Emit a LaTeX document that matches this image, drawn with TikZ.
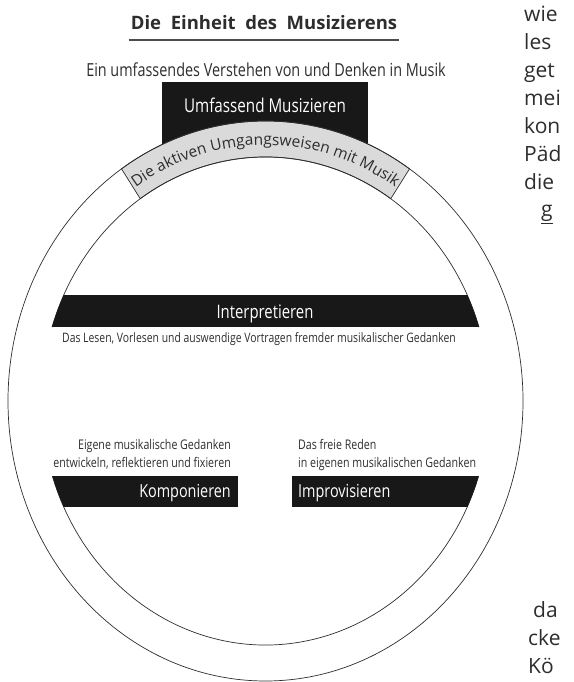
\documentclass[tikz,border=0pt]{standalone}
\usepackage{fontspec}
\setmainfont{Open Sans}
\newfontfamily\cond[FakeStretch=0.8]{Open Sans}
\usepackage{tikz}
\usepackage{xcolor}
\usetikzlibrary{decorations.text,calc}
\definecolor{bandgrey}{RGB}{218,218,218}
\definecolor{barblack}{RGB}{24,24,24}
\definecolor{inkgrey}{RGB}{45,45,45}

\begin{document}
\begin{tikzpicture}[x=1pt,y=1pt,
  ring/.style={line width=0.7pt,draw=inkgrey},
  bar/.style={fill=barblack},
  barlabel/.style={text=white,inner sep=0pt,anchor=base,font=\cond\fontsize{#1}{#1}\selectfont},
  note/.style={text=inkgrey,inner sep=0pt,anchor=base,font=\cond\fontsize{#1}{#1}\selectfont},
  pagetext/.style={text=inkgrey,inner sep=0pt,anchor=base west,font=\fontsize{21}{21}\selectfont}]
\useasboundingbox (0,0) rectangle (573,682);
\clip (0,0) rectangle (573,682);
\coordinate (c) at (265.5,281);
\node[inner sep=0pt,anchor=base,text=inkgrey,font=\bfseries\fontsize{18.5}{18.5}\selectfont] (title) at (264,652) {Die\ \ Einheit\ \ des\ \ Musizierens};
\draw[line width=1.2pt,inkgrey!85] ($(title.base west)+(-2,-10)$) coordinate (ul1) -- ($(title.base east)+(2,-10)$) coordinate (ul2);
\node[note=18] (sub) at (266,605) {Ein umfassendes Verstehen von und Denken in Musik};
\fill[bar] (162,530) rectangle (368,600);
\node[barlabel=19] (umf) at (265,569) {Umfassend Musizieren};
\filldraw[ring,fill=bandgrey] ($(c)+(56:257.5 and 280)$) arc[start angle=56,end angle=124,x radius=257.5,y radius=280]
  -- ($(c)+(124:224 and 244)$) arc[start angle=124,end angle=56,x radius=224,y radius=244] -- cycle;
\path[decorate,decoration={text along path,text align=center,
  text={|\fontsize{15.5}{15.5}\selectfont\color{inkgrey}|Die aktiven Umgangsweisen mit Musik}}]
  ($(c)+(125:235 and 256)$) arc[start angle=125,end angle=55,x radius=235,y radius=256];
\draw[ring] (c) ellipse[x radius=257.5,y radius=280];
\draw[ring] ($(c)+(17.6:224 and 244)$) arc[start angle=17.6,end angle=162.4,x radius=224,y radius=244];
\draw[ring] ($(c)+(197.9:224 and 244)$) arc[start angle=197.9,end angle=342.1,x radius=224,y radius=244];
\begin{scope}
\clip (c) ellipse[x radius=224,y radius=244];
\fill[bar] (0,355) rectangle (573,387);
\fill[bar] (0,175) rectangle (238,206);
\fill[bar] (292,175) rectangle (573,206);
\end{scope}
\node[barlabel=18.6] (int) at (265,363) {Interpretieren};
\node[note=13] (lesen) at (259,339) {Das Lesen, Vorlesen und auswendige Vortragen fremder musikalischer Gedanken};
\node[note=13.3,anchor=base east] (eig1) at (231,232) {Eigene musikalische Gedanken};
\node[note=13.3,anchor=base east] (eig2) at (231,214) {entwickeln, reflektieren und fixieren};
\node[barlabel=18,anchor=base east] (komp) at (231,184) {Komponieren};
\node[note=13.3,anchor=base west] (frei1) at (298,232) {Das freie Reden};
\node[note=13.3,anchor=base west] (frei2) at (298,214) {in eigenen musikalischen Gedanken};
\node[barlabel=18,anchor=base west] (impro) at (298,184) {Improvisieren};
\foreach \w [count=\i] in {wie,les,get,mei,kon,P\"ad,die}
  \node[pagetext] (top\i) at (524,{660-28*(\i-1)}) {\w};
\node[pagetext] (top8) at (541,465) {\underline{g}};
\node[pagetext] (bot1) at (533,64) {da};
\node[pagetext] (bot2) at (528,36) {cke};
\node[pagetext] (bot3) at (528,9) {K\"o};
\end{tikzpicture}
\end{document}
